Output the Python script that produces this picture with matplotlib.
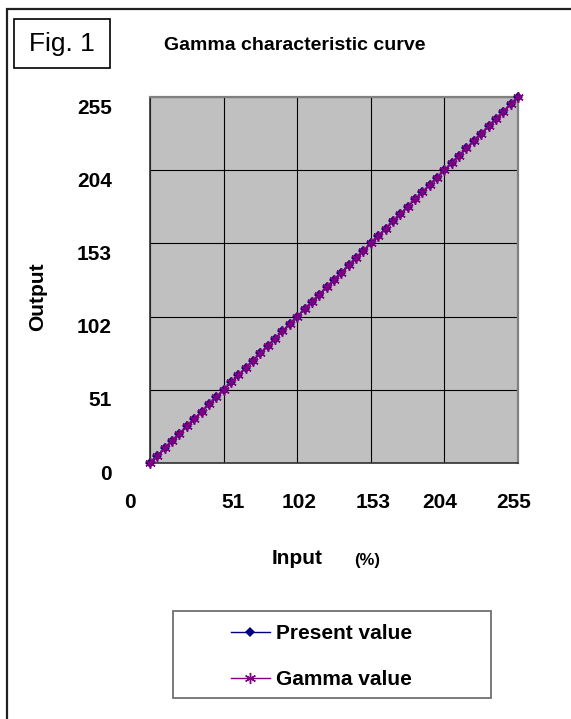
import matplotlib
matplotlib.use("Agg")
import matplotlib.pyplot as plt
from matplotlib.lines import Line2D
from matplotlib.patches import Rectangle
from matplotlib.transforms import blended_transform_factory, ScaledTranslation

plt.rcParams["font.family"] = ["Liberation Sans", "DejaVu Sans"]

# input levels (0..100 % in 2 % steps, shown on a 0..255 scale)
input_level = [0, 5.1, 10.2, 15.3, 20.4, 25.5, 30.6, 35.7, 40.8, 45.9,
               51, 56.1, 61.2, 66.3, 71.4, 76.5, 81.6, 86.7, 91.8, 96.9,
               102, 107.1, 112.2, 117.3, 122.4, 127.5, 132.6, 137.7, 142.8, 147.9,
               153, 158.1, 163.2, 168.3, 173.4, 178.5, 183.6, 188.7, 193.8, 198.9,
               204, 209.1, 214.2, 219.3, 224.4, 229.5, 234.6, 239.7, 244.8, 249.9,
               255]
present_value = [0, 5.1, 10.2, 15.3, 20.4, 25.5, 30.6, 35.7, 40.8, 45.9,
                 51, 56.1, 61.2, 66.3, 71.4, 76.5, 81.6, 86.7, 91.8, 96.9,
                 102, 107.1, 112.2, 117.3, 122.4, 127.5, 132.6, 137.7, 142.8, 147.9,
                 153, 158.1, 163.2, 168.3, 173.4, 178.5, 183.6, 188.7, 193.8, 198.9,
                 204, 209.1, 214.2, 219.3, 224.4, 229.5, 234.6, 239.7, 244.8, 249.9,
                 255]
gamma_value = [0, 5.1, 10.2, 15.3, 20.4, 25.5, 30.6, 35.7, 40.8, 45.9,
               51, 56.1, 61.2, 66.3, 71.4, 76.5, 81.6, 86.7, 91.8, 96.9,
               102, 107.1, 112.2, 117.3, 122.4, 127.5, 132.6, 137.7, 142.8, 147.9,
               153, 158.1, 163.2, 168.3, 173.4, 178.5, 183.6, 188.7, 193.8, 198.9,
               204, 209.1, 214.2, 219.3, 224.4, 229.5, 234.6, 239.7, 244.8, 249.9,
               255]
ticks = [0, 51, 102, 153, 204, 255]
tick_labels = ["0", "51", "102", "153", "204", "255"]

W, H = 571, 719
fig = plt.figure(figsize=(W / 100, H / 100), dpi=100)


def fx(x):
    return x / W


def fy(y):
    return 1 - y / H


# outer frame (runs off the right and bottom edges)
fig.patches.append(Rectangle((fx(6.5), fy(H + 20)), fx(W + 20), fy(8.5) - fy(H + 20),
                             transform=fig.transFigure, fill=False,
                             edgecolor="#202020", linewidth=1.6))
# "Fig. 1" box
fig.patches.append(Rectangle((fx(14), fy(68)), fx(110) - fx(14), fy(19) - fy(68),
                             transform=fig.transFigure, fill=False,
                             edgecolor="black", linewidth=1.2))
fig.text(fx(62), fy(44), "Fig. 1", fontsize=19, ha="center", va="center")
fig.text(fx(295), fy(45), "Gamma characteristic curve", fontsize=14,
         fontweight="bold", ha="center", va="center")

ax = fig.add_axes([fx(150), fy(463), fx(518) - fx(150), fy(97) - fy(463)])
ax.set_facecolor("#c0c0c0")
ax.set_xlim(0, 255)
ax.set_ylim(0, 255)
ax.set_xticks(ticks)
ax.set_yticks(ticks)
ax.tick_params(length=0, labelbottom=False, labelleft=False)
ax.grid(True, color="black", linewidth=0.8)
ax.set_axisbelow(True)
for side in ["top", "right"]:
    ax.spines[side].set_color("#808080")
    ax.spines[side].set_linewidth(1.6)
for side in ["left", "bottom"]:
    ax.spines[side].set_color("#303030")
    ax.spines[side].set_linewidth(1.2)

ax.plot(input_level, present_value, color="#000080", linewidth=1.2,
        marker="D", markersize=5, markeredgewidth=0, clip_on=False, zorder=3)
ax.plot(input_level, gamma_value, color="#800080", linewidth=1.3,
        marker=(6, 2, 0), markersize=7.5, markeredgewidth=1.1, clip_on=False, zorder=4)

# tick labels, placed like the original (slightly off the grid lines)
ytrans = blended_transform_factory(ax.transAxes, ax.transData)
yshift = ScaledTranslation(0, -0.11, fig.dpi_scale_trans)
for v, lab in zip(ticks, tick_labels):
    ax.text((112 - 150) / 368, v, lab, transform=ytrans + yshift,
            ha="right", va="center", fontsize=15, fontweight="bold")

xtrans = blended_transform_factory(ax.transData, ax.transAxes)
xlabel_nudge_px = [-20, 9, 2, 2, -5, -4]
for v, lab, dx in zip(ticks, tick_labels, xlabel_nudge_px):
    ax.text(v, -(502 - 463) / 366, lab,
            transform=xtrans + ScaledTranslation(dx / 100, 0, fig.dpi_scale_trans),
            ha="center", va="center", fontsize=15, fontweight="bold")

ax.set_ylabel("Output", fontsize=15, fontweight="bold")
ax.yaxis.set_label_coords((38 - 150) / 368, (463 - 297) / 366)
ax.set_xlabel("Input", fontsize=15, fontweight="bold")
ax.xaxis.set_label_coords((297 - 150) / 368, -(558 - 463) / 366)
ax.xaxis.label.set_va("center")
ax.yaxis.label.set_va("center")
fig.text(fx(367), fy(561), "(%)", fontsize=12, fontweight="bold",
         ha="center", va="center")

# legend
fig.patches.append(Rectangle((fx(173), fy(698)), fx(491) - fx(173), fy(611) - fy(698),
                             transform=fig.transFigure, fill=False,
                             edgecolor="#707070", linewidth=1.3))
handles = [
    Line2D([], [], color="#000080", linewidth=1.0, marker="D", markersize=5,
           markeredgewidth=0),
    Line2D([], [], color="#800080", linewidth=1.0, marker=(6, 2, 0), markersize=8,
           markeredgewidth=1.0),
]
fig.legend(handles, ["Present value", "Gamma value"], loc="center left",
           bbox_to_anchor=(fx(231), fy(656.5)), frameon=False, borderpad=0,
           borderaxespad=0, handlelength=1.85, handletextpad=0.3,
           labelspacing=1.3, numpoints=1,
           prop={"size": 15, "weight": "bold"})

fig.savefig("out.png", dpi=100)
